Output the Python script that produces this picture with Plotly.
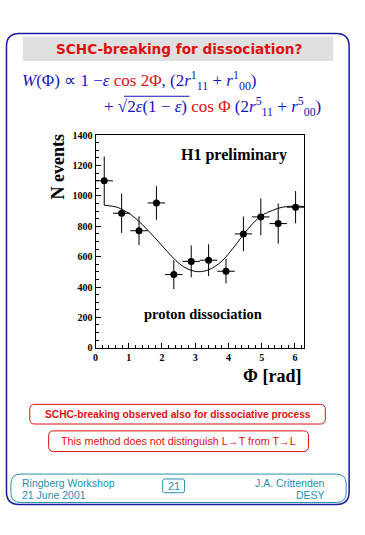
import plotly.graph_objects as go

W, H = 365, 535

# ---- data ----
phi_centers = [0.262, 0.785, 1.309, 1.833, 2.356, 2.880, 3.403, 3.927, 4.451, 4.974, 5.498, 6.021]
phi_halfwidth = [0.262, 0.262, 0.262, 0.262, 0.262, 0.262, 0.262, 0.262, 0.262, 0.262, 0.262, 0.262]
n_events = [1100, 886, 771, 954, 482, 569, 577, 504, 750, 862, 818, 926]
n_err = [160, 130, 95, 111, 95, 105, 105, 80, 115, 122, 132, 106]

fit_phi = [0.26, 0.65, 0.85, 1.05, 1.29, 1.54, 1.79, 2.04, 2.29, 2.54, 2.74, 3.04,
           3.33, 3.58, 3.83, 4.13, 4.43, 4.73, 5.03, 5.33, 5.62, 6.02, 6.283]
fit_n = [939, 926, 905, 879, 836, 782, 724, 663, 603, 551, 523, 502,
         508, 534, 577, 653, 739, 818, 875, 905, 926, 933, 930]

y_ticks = [0, 200, 400, 600, 800, 1000, 1200, 1400]
x_ticks = [0, 1, 2, 3, 4, 5, 6]

# ---- helpers (pixel -> paper) ----
def X(px):
    return px / W

def Y(py):
    return 1 - py / H

def rrect(x0, y0, x1, y1, r):
    pts = [
        ("M", (x0 + r, y0)), ("L", (x1 - r, y0)), ("Q", (x1, y0), (x1, y0 + r)),
        ("L", (x1, y1 - r)), ("Q", (x1, y1), (x1 - r, y1)),
        ("L", (x0 + r, y1)), ("Q", (x0, y1), (x0, y1 - r)),
        ("L", (x0, y0 + r)), ("Q", (x0, y0), (x0 + r, y0)),
    ]
    s = ""
    for p in pts:
        cmd = p[0]
        coords = " ".join(f"{X(a):.5f},{Y(b):.5f}" for a, b in p[1:])
        s += f"{cmd} {coords} "
    return s + "Z"

RED = "#dd1010"
BLUE = "#1414c0"
NAVY = "#1a1a9a"
TEAL = "#2a8fae"

plot_l, plot_r, plot_t, plot_b = 93.3, 303.8, 132.7, 349.3

fig = go.Figure()

fig.add_trace(go.Scatter(
    x=fit_phi, y=fit_n, mode="lines", line=dict(color="black", width=1, shape="spline"),
    hoverinfo="skip", showlegend=False))

fig.add_trace(go.Scatter(
    x=phi_centers, y=n_events, mode="markers",
    marker=dict(color="black", size=7),
    error_x=dict(type="data", array=phi_halfwidth, color="black", thickness=1, width=0),
    error_y=dict(type="data", array=n_err, color="black", thickness=1, width=0),
    showlegend=False))

tickfont = dict(family="Liberation Serif", size=10, color="black")

fig.update_layout(
    width=W, height=H, autosize=False,
    margin=dict(l=0, r=0, t=0, b=0),
    paper_bgcolor="white", plot_bgcolor="white",
    xaxis=dict(domain=[X(plot_l), X(plot_r)], range=[0, 6.2832], showgrid=False, zeroline=False,
               showline=True, linecolor="black", linewidth=1, mirror=True,
               tickvals=x_ticks, ticktext=[f"<b>{v}</b>" for v in x_ticks],
               ticks="inside", ticklen=5, tickcolor="black", tickwidth=1,
               minor=dict(dtick=0.2, ticks="inside", ticklen=3, tickcolor="black", tickwidth=1, showgrid=False),
               tickfont=tickfont),
    yaxis=dict(domain=[Y(plot_b), Y(plot_t)], range=[0, 1400], showgrid=False, zeroline=False,
               showline=True, linecolor="black", linewidth=1, mirror=True,
               tickvals=y_ticks, ticktext=[f"<b>{v}</b>" for v in y_ticks],
               ticks="inside", ticklen=5, tickcolor="black", tickwidth=1,
               minor=dict(dtick=50, ticks="inside", ticklen=3, tickcolor="black", tickwidth=1, showgrid=False),
               tickfont=tickfont),
)

shapes = []
# outer slide frame
shapes.append(dict(type="path", xref="paper", yref="paper", path=rrect(3.5, 29, 349, 509, 13),
                   line=dict(color=NAVY, width=1.5), fillcolor="rgba(0,0,0,0)"))
# title gray box
shapes.append(dict(type="rect", xref="paper", yref="paper", x0=X(20), x1=X(333), y0=Y(57), y1=Y(32),
                   line=dict(width=0), fillcolor="#e0e0e0", layer="below"))
# red boxes
shapes.append(dict(type="path", xref="paper", yref="paper", path=rrect(27, 407, 325, 427, 5),
                   line=dict(color=RED, width=1), fillcolor="rgba(0,0,0,0)"))
shapes.append(dict(type="path", xref="paper", yref="paper", path=rrect(46, 434, 308, 455, 5),
                   line=dict(color=RED, width=1), fillcolor="rgba(0,0,0,0)"))
# footer
shapes.append(dict(type="path", xref="paper", yref="paper", path=rrect(8, 478, 346, 507, 10),
                   line=dict(color=TEAL, width=1), fillcolor="rgba(0,0,0,0)"))
shapes.append(dict(type="path", xref="paper", yref="paper", path=rrect(161, 483, 183, 497, 2),
                   line=dict(color=TEAL, width=1), fillcolor="rgba(0,0,0,0)"))
# sqrt overline
shapes.append(dict(type="line", xref="paper", yref="paper", x0=X(122), x1=X(188), y0=Y(93), y1=Y(93),
                   line=dict(color=BLUE, width=1)))
fig.update_layout(shapes=shapes)

def ann(text, x, y, size, color, family, xanchor="center", yanchor="middle", angle=0):
    fig.add_annotation(text=text, x=X(x), y=Y(y), xref="paper", yref="paper",
                       xanchor=xanchor, yanchor=yanchor, showarrow=False, textangle=angle,
                       font=dict(size=size, color=color, family=family))

ann("<b>SCHC-breaking for dissociation?</b>", 177, 44.5, 13.6, RED, "DejaVu Sans")

line1 = ("<i>W</i>(Φ) ∝ 1 −<i>ε</i> <span style='color:%s'>cos 2Φ</span>, "
         "(2<i>r</i><sup>1</sup><sub>11</sub> + <i>r</i><sup>1</sup><sub>00</sub>)") % RED
ann(line1, 17, 77, 17, BLUE, "Liberation Serif", xanchor="left")
line2 = ("+ √2<i>ε</i>(1 − <i>ε</i>) <span style='color:%s'>cos Φ</span> "
         "(2<i>r</i><sup>5</sup><sub>11</sub> + <i>r</i><sup>5</sup><sub>00</sub>)") % RED
ann(line2, 100, 103, 17, BLUE, "Liberation Serif", xanchor="left")

ann("<b>N events</b>", 55, 165, 18, "black", "Liberation Serif", angle=-90)
ann("<b>Φ [rad]</b>", 302, 378, 18, "black", "Liberation Serif", xanchor="right")
ann("<b>H1 preliminary</b>", 233, 153, 16, "black", "Liberation Serif")
ann("<b>proton dissociation</b>", 202, 315, 14.5, "black", "Liberation Serif")

ann("<b>SCHC-breaking observed also for dissociative process</b>", 176, 417, 10.2, RED, "Liberation Sans")
ann("This method does not distinguish L→T from T→L", 177, 444.5, 10.8, RED, "Liberation Sans")

ann("Ringberg Workshop", 17, 487, 10.5, TEAL, "Liberation Sans", xanchor="left")
ann("21 June 2001", 17, 499.5, 10.5, TEAL, "Liberation Sans", xanchor="left")
ann("21", 172, 490.5, 11, TEAL, "Liberation Sans")
ann("J.A. Crittenden", 327, 487, 10.5, TEAL, "Liberation Sans", xanchor="right")
ann("DESY", 327, 499.5, 10.5, TEAL, "Liberation Sans", xanchor="right")

fig.write_html("out.html", config={"displayModeBar": False},
               post_script="document.body.style.margin='0';")
